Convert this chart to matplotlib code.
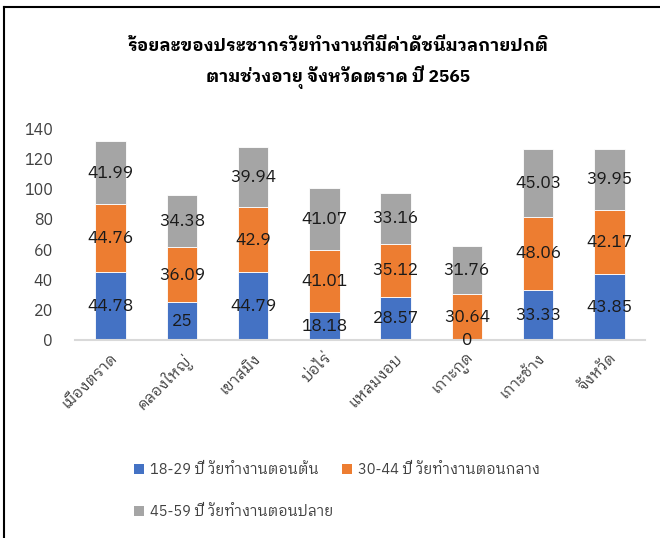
import numpy as np
import matplotlib
matplotlib.use("Agg")
import matplotlib.pyplot as plt
from matplotlib import font_manager as fm
from matplotlib.lines import Line2D
from matplotlib.patches import Patch
from matplotlib.transforms import ScaledTranslation

categories = ["เมืองตราด", "คลองใหญ่", "เขาสมิง", "บ่อไร่", "แหลมงอบ", "เกาะกูด", "เกาะช้าง", "จังหวัด"]
age_18_29 = [44.78, 25, 44.79, 18.18, 28.57, 0, 33.33, 43.85]
age_30_44 = [44.76, 36.09, 42.9, 41.01, 35.12, 30.64, 48.06, 42.17]
age_45_59 = [41.99, 34.38, 39.94, 41.07, 33.16, 31.76, 45.03, 39.95]
series_names = ["18-29 ปี วัยทำงานตอนต้น", "30-44 ปี วัยทำงานตอนกลาง", "45-59 ปี วัยทำงานตอนปลาย"]
title = "ร้อยละของประชากรวัยทำงานที่มีค่าดัชนีมวลกายปกติ\nตามช่วงอายุ จังหวัดตราด ปี 2565"
yticks = [0, 20, 40, 60, 80, 100, 120, 140]
colors = ["#4472C4", "#ED7D31", "#A5A5A5"]

installed = {f.name for f in fm.fontManager.ttflist}
families = [f for f in ["IBM Plex Sans Thai Looped", "Noto Sans Thai Looped", "Noto Sans Thai"] if f in installed][:1]
families += ["DejaVu Sans"]
plt.rcParams["font.family"] = families

fig = plt.figure(figsize=(6.6, 5.38), dpi=100)
ax = fig.add_axes([75/660, 1-340/538, 570/660, 212/538])

x = np.arange(len(categories))
w = 0.43
bottom = np.zeros(len(categories))
for vals, c in zip([age_18_29, age_30_44, age_45_59], colors):
    vals = np.array(vals, dtype=float)
    ax.bar(x, vals, w, bottom=bottom, color=c, edgecolor="white", linewidth=0.6, zorder=2)
    for xi, b, v in zip(x, bottom, vals):
        ax.text(xi, b + v/2, f"{v:g}", ha="center", va="center", fontsize=12.5, color="#1a1a1a", zorder=3)
    bottom += vals

ax.set_xlim(-0.5, len(categories) - 0.5)
ax.set_ylim(0, 140)
ax.set_yticks(yticks)
ax.set_yticklabels([str(t) for t in yticks], fontsize=11.5, color="#404040")
ax.set_xticks(x)
ax.set_xticklabels(categories, rotation=45, ha="right", rotation_mode="anchor", fontsize=11, color="#404040")
off = ScaledTranslation(-2/100, -27/100, fig.dpi_scale_trans)
for lab in ax.get_xticklabels():
    lab.set_transform(lab.get_transform() + off)
for s in ["top", "right", "left"]:
    ax.spines[s].set_visible(False)
ax.spines["bottom"].set_color("#d9d9d9")
ax.spines["bottom"].set_linewidth(1.5)
ax.tick_params(axis="y", length=0, pad=16)
ax.tick_params(axis="x", length=0, pad=8)

fig.text(338/660, 1-63/538, title, ha="center", va="center", fontsize=12.5, fontweight="bold",
         color="#000000", linespacing=1.7)

handles = [Patch(facecolor=c, edgecolor="none") for c in colors]
order = [0, 2, 1]
fig.legend([handles[i] for i in order], [series_names[i] for i in order], loc="upper left",
           bbox_to_anchor=(121/660, 1-450/538), ncol=2,
           frameon=False, fontsize=10.5, labelcolor="#404040", handlelength=0.7, handleheight=0.7,
           handletextpad=0.4, columnspacing=0.6, labelspacing=1.9)

fig.add_artist(Line2D([4/660, 1], [1-7/538, 1-7/538], color="black", linewidth=1.5))
fig.add_artist(Line2D([4/660, 4/660], [0, 1-7/538], color="black", linewidth=1.5))

fig.savefig("out.png", dpi=100)
